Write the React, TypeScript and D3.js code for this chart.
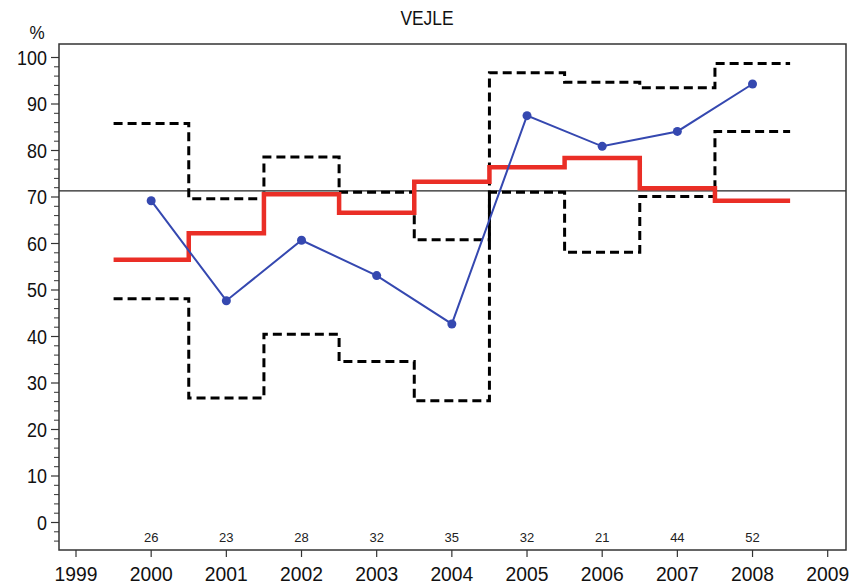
import React from "react";
import * as d3 from "d3";

const years = [2000, 2001, 2002, 2003, 2004, 2005, 2006, 2007, 2008];
const observed = [69.2, 47.7, 60.7, 53.1, 42.7, 87.5, 80.9, 84.1, 94.3];
const expected = [56.5, 62.2, 70.6, 66.6, 73.3, 76.4, 78.4, 71.9, 69.2];
const upperLimit = [85.8, 69.6, 78.6, 71.0, 60.8, 96.7, 94.7, 93.5, 98.7];
const lowerLimit = [48.1, 26.8, 40.5, 34.6, 26.2, 71.0, 58.1, 70.1, 84.1];
const counts = [26, 23, 28, 32, 35, 32, 21, 44, 52];
const referenceLevel = 71.3;
const xTickYears = [1999, 2000, 2001, 2002, 2003, 2004, 2005, 2006, 2007, 2008, 2009];
const yMajorTicks = [0, 10, 20, 30, 40, 50, 60, 70, 80, 90, 100];
const title = "VEJLE";

export default function App() {
  const W = 853;
  const H = 586;
  const left = 59;
  const right = 846;
  const top = 44;
  const bottom = 550;

  const x = d3.scaleLinear().domain([1999, 2009]).range([76, 827.7]);
  const y = d3.scaleLinear().domain([0, 100]).range([522.5, 57.5]);

  const stepPts = (vals: number[]) => {
    const pts: [number, number][] = [];
    vals.forEach((v, i) => {
      pts.push([years[i] - 0.5, v]);
      pts.push([years[i] + 0.5, v]);
    });
    return pts;
  };
  const line = d3
    .line<[number, number]>()
    .x((d) => x(d[0]))
    .y((d) => y(d[1]));

  const obsLine = d3
    .line<number>()
    .x((_, i) => x(years[i]))
    .y((d) => y(d));

  const minorTicks = d3.range(-4, 102, 2).filter((v) => v % 10 !== 0);
  const font = "'Liberation Sans', Arial, Helvetica, sans-serif";

  return (
    <svg
      width={W}
      height={H}
      style={{ position: "absolute", left: 0, top: 0, background: "#fff" }}
      fontFamily={font}
    >
      <rect x={0} y={0} width={W} height={H} fill="#fff" />
      {/* title */}
      <text
        transform={`translate(427,25) scale(0.87,1)`}
        textAnchor="middle"
        fontSize={20}
        fill="#111"
      >
        {title}
      </text>
      <text
        transform={`translate(37,39) scale(0.9,1)`}
        textAnchor="middle"
        fontSize={19}
        fill="#111"
      >
        %
      </text>

      {/* reference line */}
      <line
        x1={left}
        x2={right}
        y1={y(referenceLevel)}
        y2={y(referenceLevel)}
        stroke="#222"
        strokeWidth={1.2}
      />

      {/* limits */}
      <path
        d={line(stepPts(upperLimit)) || ""}
        fill="none"
        stroke="#000"
        strokeWidth={3}
        strokeDasharray="9,5"
      />
      <path
        d={line(stepPts(lowerLimit)) || ""}
        fill="none"
        stroke="#000"
        strokeWidth={3}
        strokeDasharray="9,5"
      />

      {/* expected */}
      <path
        d={line(stepPts(expected)) || ""}
        fill="none"
        stroke="#ea2e26"
        strokeWidth={4.5}
      />

      {/* observed */}
      <path
        d={obsLine(observed) || ""}
        fill="none"
        stroke="#3548b0"
        strokeWidth={2}
      />
      {observed.map((v, i) => (
        <circle key={i} cx={x(years[i])} cy={y(v)} r={4.5} fill="#3548b0" />
      ))}

      {/* counts */}
      {counts.map((c, i) => (
        <text
          key={i}
          x={x(years[i])}
          y={bottom - 8}
          textAnchor="middle"
          fontSize={13}
          fill="#222"
        >
          {c}
        </text>
      ))}

      {/* frame */}
      <rect
        x={left}
        y={top}
        width={right - left}
        height={bottom - top}
        fill="none"
        stroke="#333"
        strokeWidth={1.5}
      />

      {/* y axis ticks */}
      {yMajorTicks.map((t) => (
        <g key={t}>
          <line x1={left - 8} x2={left} y1={y(t)} y2={y(t)} stroke="#333" strokeWidth={1.2} />
          <text
            transform={`translate(47,${y(t) + 7}) scale(0.92,1)`}
            textAnchor="end"
            fontSize={19.5}
            fill="#111"
          >
            {t}
          </text>
        </g>
      ))}
      {minorTicks.map((t) => (
        <line key={t} x1={left - 5} x2={left} y1={y(t)} y2={y(t)} stroke="#333" strokeWidth={1} />
      ))}

      {/* x axis ticks */}
      {xTickYears.map((t) => (
        <g key={t}>
          <line x1={x(t)} x2={x(t)} y1={bottom} y2={bottom + 7} stroke="#333" strokeWidth={1.2} />
          <text
            transform={`translate(${x(t)},581) scale(0.92,1)`}
            textAnchor="middle"
            fontSize={21}
            fill="#111"
          >
            {t}
          </text>
        </g>
      ))}
    </svg>
  );
}
